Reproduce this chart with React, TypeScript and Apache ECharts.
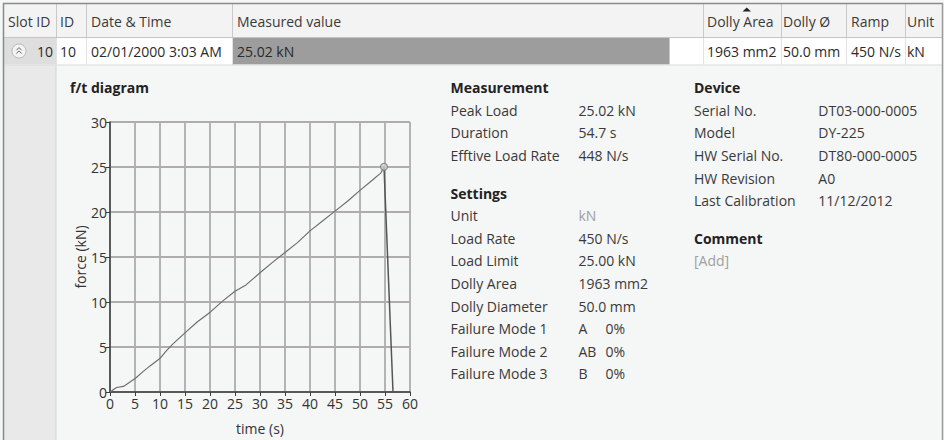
import React, { useEffect, useRef } from "react";
import * as echarts from "echarts";

// ---- data ----
const timeS = [0, 1.3, 2.7, 4, 5.1, 6.6, 8, 10.1, 11.3, 12.6, 15.1, 17.5, 20.1, 22.5, 25, 27.2, 30, 32.5, 35, 37.5, 40, 42.5, 45, 47.5, 50, 52.5, 54.2, 54.8];
const forceKN = [0, 0.5, 0.62, 1.1, 1.53, 2.26, 2.9, 3.78, 4.6, 5.35, 6.62, 7.8, 8.9, 10.1, 11.2, 11.9, 13.25, 14.4, 15.5, 16.6, 17.9, 19.0, 20.1, 21.2, 22.4, 23.55, 24.35, 25.02];
const dropTime = [54.8, 56.6];
const dropForce = [25.02, 0];
const peakTime = 54.8;
const peakForce = 25.02;

const headerCols = ["Slot ID", "ID", "Date & Time", "Measured value", "Dolly Area", "Dolly Ø", "Ramp", "Unit"];
const rowCells = ["10", "10", "02/01/2000 3:03 AM", "25.02 kN", "1963 mm2", "50.0 mm", "450 N/s", "kN"];
const measuredFraction = 0.929; // bar fill of measured value cell

const measurementLabels = ["Peak Load", "Duration", "Efftive Load Rate"];
const measurementValues = ["25.02 kN", "54.7 s", "448 N/s"];
const settingsLabels = ["Unit", "Load Rate", "Load Limit", "Dolly Area", "Dolly Diameter", "Failure Mode 1", "Failure Mode 2", "Failure Mode 3"];
const settingsValues = ["kN", "450 N/s", "25.00 kN", "1963 mm2", "50.0 mm", "A", "AB", "B"];
const failurePercents = ["0%", "0%", "0%"];
const deviceLabels = ["Serial No.", "Model", "HW Serial No.", "HW Revision", "Last Calibration"];
const deviceValues = ["DT03-000-0005", "DY-225", "DT80-000-0005", "A0", "11/12/2012"];

const FONT = '"Open Sans", "Noto Sans", sans-serif';
const TXT = "#3a3a3a";
const FS = 14;

function txt(x: number, y: number, text: string, opts: any = {}) {
  return {
    type: "text",
    x,
    y,
    z: 10,
    style: {
      text,
      fill: opts.fill || TXT,
      font: `${opts.bold ? "bold " : ""}${opts.size || FS}px ${FONT}`,
      textAlign: opts.align || "left",
      textVerticalAlign: "middle",
    },
  };
}
function hline(x1: number, x2: number, y: number, stroke: string, w = 1) {
  return { type: "line", z: 5, shape: { x1, y1: y, x2, y2: y }, style: { stroke, lineWidth: w } };
}
function vline(x: number, y1: number, y2: number, stroke: string, w = 1) {
  return { type: "line", z: 5, shape: { x1: x, y1, x2: x, y2 }, style: { stroke, lineWidth: w } };
}
function rect(x: number, y: number, width: number, height: number, fill: string) {
  return { type: "rect", z: 1, shape: { x, y, width, height }, style: { fill } };
}

export default function App() {
  const bgRef = useRef<HTMLDivElement>(null);
  const plotRef = useRef<HTMLDivElement>(null);
  useEffect(() => {
    document.body.style.margin = "0";
    const bg = echarts.init(bgRef.current!, undefined, { renderer: "svg" });
    const plot = echarts.init(plotRef.current!, undefined, { renderer: "svg" });

    const colX = [4, 56, 86, 232, 703, 781, 846, 905, 942];
    const headTop = 4, headBot = 37, rowBot = 64.5;
    const g: any[] = [];
    g.push(rect(4, headTop, 938, headBot - headTop, "#f3f3f3"));
    g.push(rect(4, headBot, 938, rowBot - headBot, "#ffffff"));
    g.push(rect(4, headBot, 52, rowBot - headBot, "#dedede"));
    g.push(rect(colX[3], headBot + 0.5, (colX[4] - colX[3]) * measuredFraction, rowBot - headBot - 0.5, "#9d9d9d"));
    g.push(rect(4, rowBot, 52, 440 - rowBot, "#e9e9e9"));
    g.push(vline(56, rowBot, 440, "#d2d2d2"));
    for (let i = 1; i < colX.length - 1; i++) {
      g.push(vline(colX[i] + 0.5, headTop, headBot, "#c9c9c9"));
      g.push(vline(colX[i] + 0.5, headBot, rowBot, "#e2e2e2"));
    }
    g.push(hline(4, 942, headBot + 0.5, "#c4c4c4"));
    g.push(hline(4, 942, rowBot + 0.5, "#dcdcdc"));
    g.push(hline(3, 943, 3.5, "#8a8a8a", 1.5));
    g.push(vline(3.5, 3, 440, "#8a8a8a", 1.5));
    g.push(vline(942.5, 3, 440, "#9a9a9a", 1.5));
    const headTextX = [8, 60, 91, 237, 707, 783, 851, 907];
    headerCols.forEach((h, i) => g.push(txt(headTextX[i], 21, h)));
    g.push({ type: "polygon", z: 10, shape: { points: [[742.5, 11.5], [751, 11.5], [746.75, 7.5]] }, style: { fill: "#222" } });
    const rowTextX = [37, 60, 91, 237, 707, 783, 851, 907];
    rowCells.forEach((c, i) => g.push(txt(rowTextX[i], 51.5, c, { fill: "#2a2a2a" })));
    g.push({ type: "circle", z: 8, shape: { cx: 19, cy: 51, r: 7 }, style: { fill: "#f4f4f4", stroke: "#b9b9b9", lineWidth: 1 } });
    g.push({ type: "polyline", z: 9, shape: { points: [[16.3, 50.3], [19, 47.6], [21.7, 50.3]] }, style: { stroke: "#666", lineWidth: 1, fill: "none" } });
    g.push({ type: "polyline", z: 9, shape: { points: [[16.3, 53.6], [19, 50.9], [21.7, 53.6]] }, style: { stroke: "#666", lineWidth: 1, fill: "none" } });

    g.push(txt(70, 87.5, "f/t diagram", { bold: true, fill: "#222" }));

    const labX = 450.5, valX = 578.5, rowH = 22.6;
    g.push(txt(labX, 87.7, "Measurement", { bold: true, fill: "#222" }));
    measurementLabels.forEach((l, i) => {
      g.push(txt(labX, 110.3 + i * rowH, l));
      g.push(txt(valX, 110.3 + i * rowH, measurementValues[i]));
    });
    g.push(txt(labX, 193.3, "Settings", { bold: true, fill: "#222" }));
    settingsLabels.forEach((l, i) => {
      const y = 215.7 + i * rowH;
      g.push(txt(labX, y, l));
      g.push(txt(valX, y, settingsValues[i], { fill: i === 0 ? "#a0a0a0" : TXT }));
      if (i >= 5) g.push(txt(605.5, y, failurePercents[i - 5]));
    });
    const dLabX = 694, dValX = 818.3;
    g.push(txt(dLabX, 87.7, "Device", { bold: true, fill: "#222" }));
    deviceLabels.forEach((l, i) => {
      g.push(txt(dLabX, 110.3 + i * rowH, l));
      g.push(txt(dValX, 110.3 + i * rowH, deviceValues[i]));
    });
    g.push(txt(dLabX, 238.3, "Comment", { bold: true, fill: "#222" }));
    g.push(txt(dLabX, 260.7, "[Add]", { fill: "#a0a0a0" }));

    bg.setOption({ animation: false, backgroundColor: "#f5f6f6", graphic: g });

    const gridLine = { show: true, lineStyle: { color: "#adadad", width: 1.8, type: "solid" } };
    plot.setOption({
      animation: false,
      backgroundColor: "transparent",
      grid: { left: 110, right: 534, top: 122, bottom: 42 },
      xAxis: {
        type: "value", min: 0, max: 60, interval: 5,
        name: "time (s)", nameLocation: "middle", nameGap: 29,
        nameTextStyle: { color: "#333", fontSize: FS, fontFamily: FONT },
        axisLine: { show: true, lineStyle: { color: "#3c3c3c", width: 1.5 } },
        axisTick: { show: true, length: 4, lineStyle: { color: "#3c3c3c" } },
        axisLabel: { color: "#333", fontSize: FS, fontFamily: FONT, margin: 4 },
        splitLine: gridLine,
      },
      yAxis: {
        type: "value", min: 0, max: 30, interval: 5,
        name: "force (kN)", nameLocation: "middle", nameGap: 22, nameRotate: 90,
        nameTextStyle: { color: "#333", fontSize: FS, fontFamily: FONT },
        axisLine: { show: true, lineStyle: { color: "#3c3c3c", width: 1.5 } },
        axisTick: { show: true, length: 4, lineStyle: { color: "#3c3c3c" } },
        axisLabel: { color: "#333", fontSize: FS, fontFamily: FONT, margin: 3 },
        splitLine: gridLine,
      },
      series: [
        {
          type: "line",
          data: timeS.map((t, i) => [t, forceKN[i]]),
          showSymbol: false,
          symbol: "none",
          lineStyle: { color: "#6e6e6e", width: 1.2 },
          z: 3,
        },
        {
          type: "line",
          data: dropTime.map((t, i) => [t, dropForce[i]]),
          showSymbol: false,
          symbol: "none",
          lineStyle: { color: "#555", width: 1.5 },
          z: 3,
        },
        {
          type: "scatter",
          data: [[peakTime, peakForce]],
          symbol: "circle",
          symbolSize: 7,
          itemStyle: { color: "#d0d0d0", borderColor: "#7a7a7a", borderWidth: 1.2 },
          z: 4,
        },
      ],
    });
    return () => {
      bg.dispose();
      plot.dispose();
    };
  }, []);
  return (
    <div style={{ position: "relative", width: 944, height: 440 }}>
      <div ref={bgRef} style={{ position: "absolute", left: 0, top: 0, width: 944, height: 440 }} />
      <div ref={plotRef} style={{ position: "absolute", left: 0, top: 0, width: 944, height: 440 }} />
    </div>
  );
}
